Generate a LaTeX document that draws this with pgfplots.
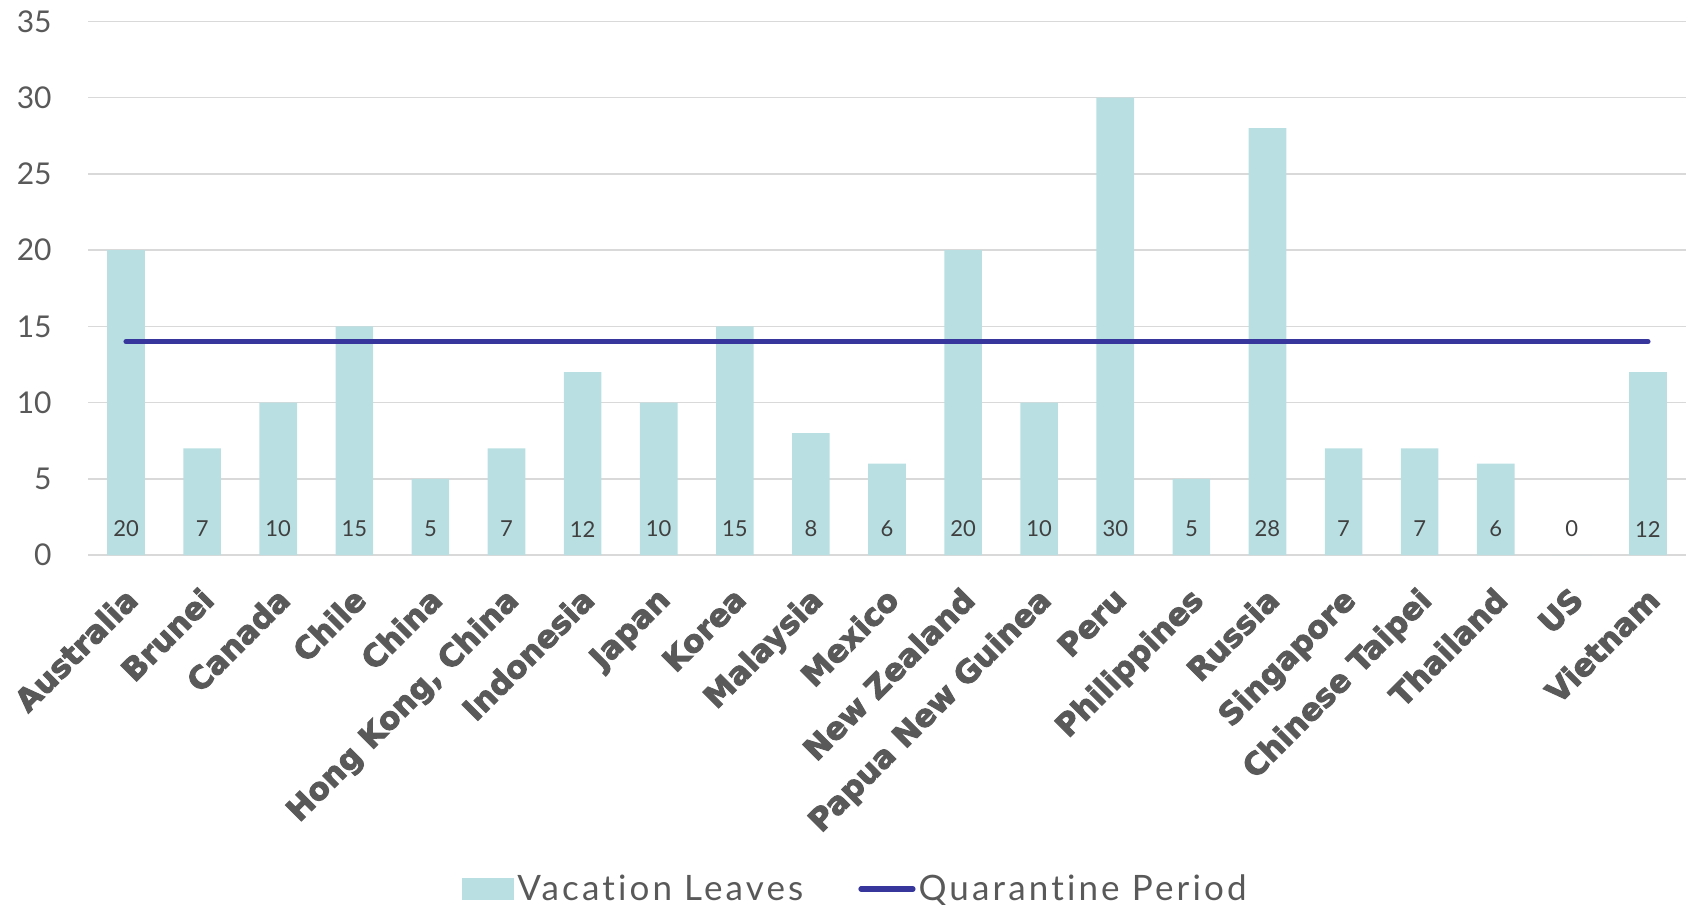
\documentclass[border=0pt]{standalone}
\usepackage{fontspec}
\setmainfont{Lato}
\newfontfamily\catfont{DejaVu Sans}[BoldFeatures={FakeBold=3}]
\newfontfamily\legfont{Lato}[LetterSpace=9, RawFeature=-liga]
\usepackage{pgfplots}
\pgfplotsset{compat=1.18}
\definecolor{barc}{HTML}{B9DFE2}
\definecolor{linec}{HTML}{36369C}
\definecolor{gridc}{HTML}{D9D9D9}
\definecolor{txt}{HTML}{595959}
\definecolor{lbl}{HTML}{404040}
\begin{document}
\begin{tikzpicture}
\begin{axis}[
  scale only axis, width=799bp, height=266.75bp,
  xmin=-0.5, xmax=20.5, ymin=0, ymax=35,
  /pgf/number format/assume math mode=true,
  xtick={0,...,20},
  xticklabels={Australia,Brunei,Canada,Chile,China,{Hong Kong, China},Indonesia,Japan,Korea,Malaysia,Mexico,New Zealand,Papua New Guinea,Peru,Philippines,Russia,Singapore,Chinese Taipei,Thailand,US,Vietnam},
  ytick={0,5,...,35},
  ymajorgrids, grid style={gridc, line width=0.75bp},
  axis line style={draw=none},
  major tick length=0pt,
  tick style={draw=none},
  yticklabel style={font=\fontsize{15bp}{18bp}\selectfont, text=txt, anchor=east, inner sep=0pt, xshift=-18bp},
  xticklabel style={font=\catfont\bfseries\fontsize{15.5bp}{17bp}\selectfont, text=txt, inner sep=0pt, xshift=-1.5bp, yshift=-15bp, rotate=45, anchor=north east},
  legend style={at={(0.4806,-0.626)}, anchor=center, draw=none, fill=none, font=\legfont\fontsize{17.5bp}{19bp}\selectfont, text=txt, /tikz/every even column/.append style={column sep=26bp}, nodes={inner sep=1.5bp}},
  legend columns=2,
  legend cell align=left,
  clip=false,
]
\coordinate (O) at (rel axis cs:0,0);
\addplot[ybar, bar width=18.8bp, fill=barc, draw=none,
  legend image code/.code={\fill[barc] (0bp,-5.5bp) rectangle (26bp,5.5bp);}]
coordinates {(0,20) (1,7) (2,10) (3,15) (4,5) (5,7) (6,12) (7,10) (8,15) (9,8) (10,6) (11,20) (12,10) (13,30) (14,5) (15,28) (16,7) (17,7) (18,6) (19,0) (20,12)};
\addlegendentry{Vacation Leaves}
\addplot[linec, line width=2.6bp, line cap=round, mark=none,
  legend image code/.code={\draw[linec, line width=2.6bp, line cap=round] (0bp,0bp) -- (26bp,0bp);}]
coordinates {(0,14) (20,14)};
\addlegendentry{Quarantine Period}
\addplot[draw=none, mark=none, forget plot, nodes near coords, point meta=explicit,
  every node near coord/.append style={anchor=center, font=\fontsize{11bp}{13bp}\selectfont, text=lbl, inner sep=0pt}]
coordinates {(0,1.7) [20] (1,1.7) [7] (2,1.7) [10] (3,1.7) [15] (4,1.7) [5] (5,1.7) [7] (6,1.7) [12] (7,1.7) [10] (8,1.7) [15] (9,1.7) [8] (10,1.7) [6] (11,1.7) [20] (12,1.7) [10] (13,1.7) [30] (14,1.7) [5] (15,1.7) [28] (16,1.7) [7] (17,1.7) [7] (18,1.7) [6] (19,1.7) [0] (20,1.7) [12]};
\end{axis}
\pgfresetboundingbox
\path (O) ++(-44bp,-175bp) rectangle ++(843bp,452.5bp);
\end{tikzpicture}
\end{document}
